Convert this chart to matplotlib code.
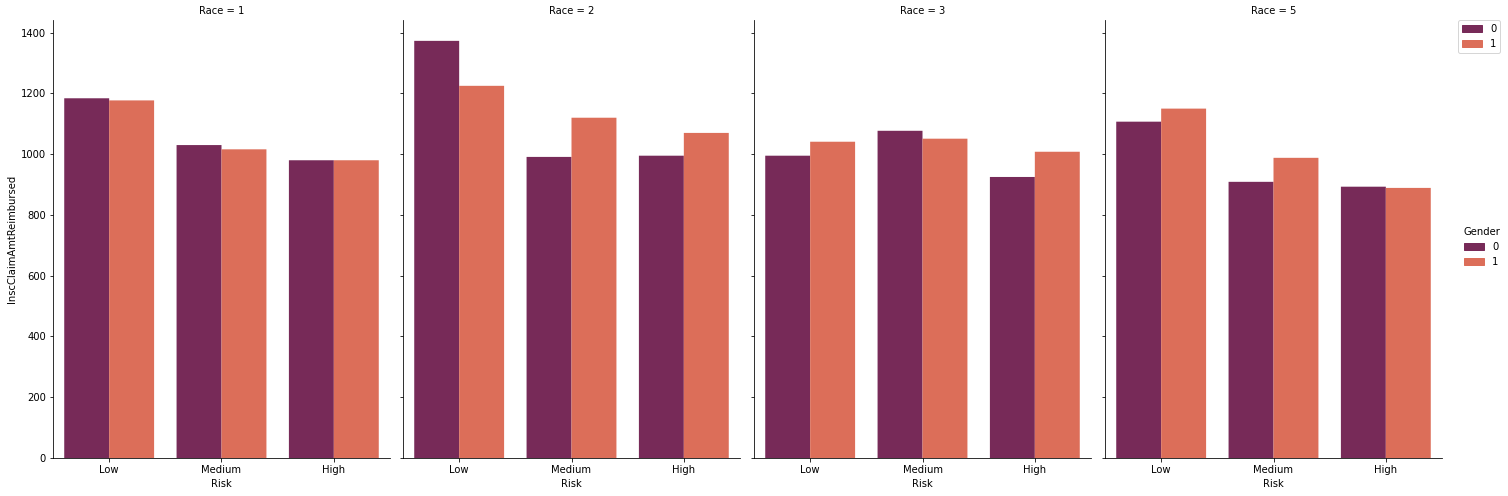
import numpy as np
import matplotlib
matplotlib.use("Agg")
import matplotlib.pyplot as plt
from matplotlib.patches import Patch

races = ["1", "2", "3", "5"]
risk = ["Low", "Medium", "High"]
genders = ["0", "1"]
# InscClaimAmtReimbursed per race: [gender0 values], [gender1 values]
race1_g0 = [1184, 1030, 980]
race1_g1 = [1177, 1016, 980]
race2_g0 = [1373, 991, 995]
race2_g1 = [1225, 1120, 1070]
race3_g0 = [995, 1077, 925]
race3_g1 = [1041, 1051, 1008]
race5_g0 = [1107, 909, 893]
race5_g1 = [1150, 988, 889]
data = [(race1_g0, race1_g1), (race2_g0, race2_g1), (race3_g0, race3_g1), (race5_g0, race5_g1)]
colors = ["#772a58", "#dc6e59"]

W, H = 1508, 496
dpi = 72
fig = plt.figure(figsize=(W / dpi, H / dpi), dpi=dpi)
plt.rcParams['font.size'] = 10

lefts = [53, 403, 754, 1105]
aw = 337
top, bottom = 20, 458
axes = []
for i, (r, (g0, g1)) in enumerate(zip(races, data)):
    ax = fig.add_axes([lefts[i] / W, 1 - bottom / H, aw / W, (bottom - top) / H],
                      sharey=axes[0] if axes else None)
    x = np.arange(len(risk))
    b0 = ax.bar(x - 0.2, g0, width=0.4, color=colors[0], linewidth=0, label=genders[0])
    b1 = ax.bar(x + 0.2, g1, width=0.4, color=colors[1], linewidth=0, label=genders[1])
    for p in list(b0) + list(b1):
        p.set_snap(False)
    ax.set_xlim(-0.5, 2.5)
    ax.set_xticks(x)
    ax.set_xticklabels(risk)
    ax.set_xlabel("Risk")
    ax.set_title(f"Race = {r}", fontsize=10)
    for s in ["top", "right"]:
        ax.spines[s].set_visible(False)
    if i == 0:
        ax.set_ylabel("InscClaimAmtReimbursed")
    else:
        ax.tick_params(labelleft=False)
    axes.append(ax)

axes[0].set_ylim(0, 1373 * 1.05)
axes[0].set_yticks(np.arange(0, 1401, 200))

handles = [Patch(color=colors[0], label="0"), Patch(color=colors[1], label="1")]
fig.legend(handles=handles, loc="upper left", bbox_to_anchor=(1453 / W, 1 - 15 / H))
fig.legend(handles=handles, loc="center left", bbox_to_anchor=(1454 / W, 1 - 247 / H),
           frameon=False, title="Gender")

fig.savefig("out.png", dpi=dpi)
